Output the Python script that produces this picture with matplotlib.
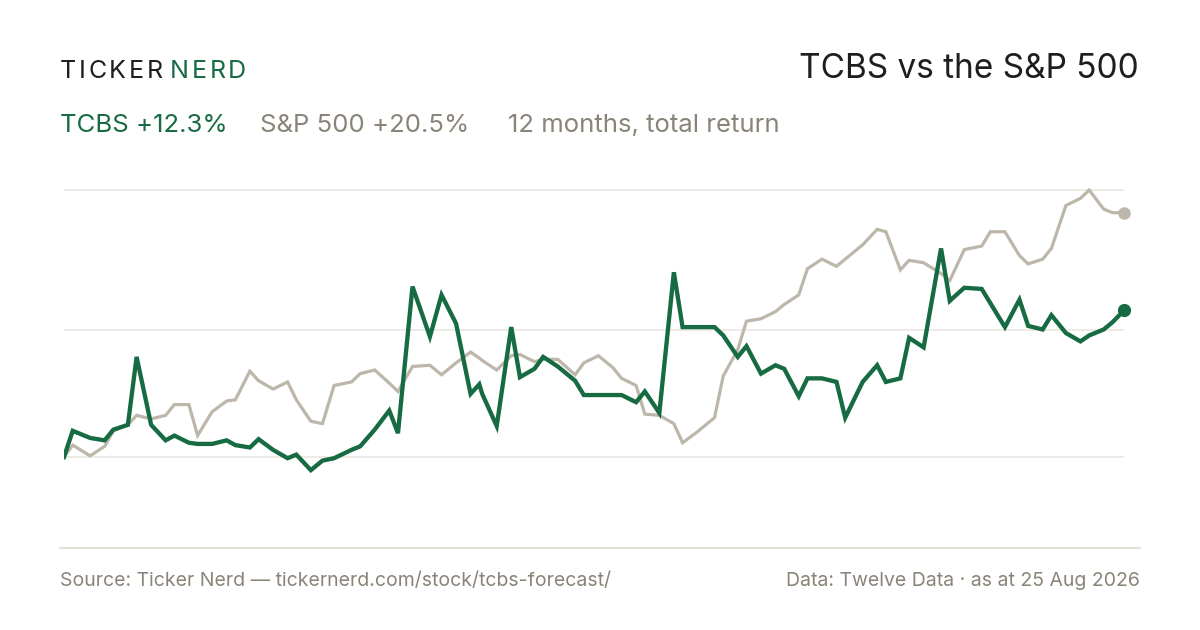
import numpy as np
import matplotlib
matplotlib.use("Agg")
import matplotlib.pyplot as plt
from matplotlib.lines import Line2D

plt.rcParams['font.family'] = ['Inter', 'DejaVu Sans']

# days since 25 Aug 2025, total return in %
days = [0, 3, 9, 14, 17, 22, 25, 30, 35, 38, 43, 46, 51, 56, 59, 64, 67, 72, 77, 80,
        85, 89, 93, 99, 102, 107, 112, 115, 120, 126, 130, 135, 140, 143, 144, 149, 154, 157, 162, 165,
        170, 176, 179, 184, 189, 192, 197, 200, 205, 210, 213, 218, 224, 227, 232, 235, 240, 245, 248, 253,
        256, 261, 266, 269, 275, 280, 283, 288, 291, 296, 302, 305, 310, 316, 319, 324, 329, 332, 337, 340,
        345, 350, 353, 358, 361, 365]

tcbs = [0.0, 2.2, 1.6, 1.4, 2.3, 2.7, 8.4, 2.7, 1.4, 1.8, 1.2, 1.1, 1.1, 1.4, 1.0, 0.8, 1.5, 0.6, -0.1, 0.2,
        -1.1, -0.3, -0.1, 0.6, 0.9, 2.3, 3.9, 2.0, 14.3, 10.1, 13.6, 11.2, 5.3, 6.1, 5.3, 2.6, 10.9, 6.7, 7.4, 8.4,
        7.6, 6.4, 5.2, 5.2, 5.2, 5.2, 4.6, 5.5, 3.7, 15.5, 10.9, 10.9, 10.9, 10.2, 8.4, 9.3, 7.0, 7.7, 7.4, 5.1,
        6.6, 6.6, 6.3, 3.3, 6.3, 7.7, 6.3, 6.6, 10.0, 9.2, 17.5, 13.1, 14.2, 14.1, 12.9, 10.9, 13.2, 11.0, 10.7, 11.9,
        10.4, 9.7, 10.2, 10.7, 11.3, 12.3]

spx = [0.0, 1.0, 0.1, 0.9, 2.2, 2.7, 3.5, 3.2, 3.5, 4.4, 4.4, 1.8, 3.8, 4.7, 4.8, 7.2, 6.4, 5.7, 6.3, 4.8,
       3.0, 2.8, 6.0, 6.3, 7.0, 7.3, 6.2, 5.5, 7.6, 7.7, 6.9, 7.9, 8.8, 8.3, 8.1, 7.3, 8.5, 8.6, 8.0, 8.2,
       8.2, 6.9, 7.9, 8.5, 7.5, 6.6, 6.0, 3.6, 3.5, 2.8, 1.2, 2.1, 3.3, 6.8, 9.0, 11.4, 11.6, 12.2, 12.8, 13.6,
       15.8, 16.6, 16.0, 16.6, 17.8, 19.1, 18.9, 15.7, 16.5, 16.3, 15.4, 14.8, 17.4, 17.7, 18.9, 18.9, 16.9, 16.2, 16.6, 17.5,
       21.1, 21.7, 22.4, 20.8, 20.5, 20.5]

grid_levels = [0.0, 10.65, 22.4]

GREEN = '#176b43'
SAND = '#bdb6aa'
MUTED = '#8a8478'
DARK = '#1e1e1e'

fig = plt.figure(figsize=(12, 6.3), dpi=100)
fig.patch.set_facecolor('white')

W, H = 1200, 630
ax = fig.add_axes([64 / W, (H - 540) / H, 1060 / W, 360 / H])
ax.plot(days, spx, color=SAND, lw=2.3, solid_joinstyle='miter', zorder=2)
ax.plot(days, tcbs, color=GREEN, lw=3.1, solid_joinstyle='miter', zorder=3)
ax.plot(days[-1], spx[-1], 'o', color=SAND, ms=8, clip_on=False, zorder=4)
ax.plot(days[-1], tcbs[-1], 'o', color=GREEN, ms=8.5, clip_on=False, zorder=5)

ax.set_xlim(0, 365)
ax.set_ylim(-6.96, 23.24)
ax.set_yticks(grid_levels)
ax.set_xticks([])
ax.grid(axis='y', color='#ebe8e2', lw=1.2)
ax.tick_params(axis='y', length=0, labelleft=False)
for s in ax.spines.values():
    s.set_visible(False)
ax.set_facecolor('none')

# brand, letter-spaced
renderer = fig.canvas.get_renderer()
x = 60
for word, col in [("TICKER", DARK), ("NERD", GREEN)]:
    for ch in word:
        t = fig.text(x / W, 1 - 72 / H, ch, color=col, fontsize=18, va='center', ha='left')
        w = t.get_window_extent(renderer).width
        x += w + 2.6
    x += 5

fig.text(1139 / W, 1 - 69 / H, "TCBS vs the S&P 500", color=DARK, fontsize=24,
         ha='right', va='center')

fig.text(60 / W, 1 - 126 / H, "TCBS +12.3%", color=GREEN, fontsize=18.5, va='center')
fig.text(260 / W, 1 - 126 / H, "S&P 500 +20.5%", color=MUTED, fontsize=18.5, va='center')
fig.text(508 / W, 1 - 126 / H, "12 months, total return", color=MUTED, fontsize=18.5, va='center')

fig.add_artist(Line2D([60 / W, 1140 / W], [1 - 548 / H, 1 - 548 / H],
                      transform=fig.transFigure, color='#dedad0', lw=1.2))

fig.text(60 / W, 1 - 581 / H, "Source: Ticker Nerd \u2014 tickernerd.com/stock/tcbs-forecast/",
         color=MUTED, fontsize=14, va='center')
fig.text(1140 / W, 1 - 581 / H, "Data: Twelve Data \u00b7 as at 25 Aug 2026",
         color=MUTED, fontsize=14, va='center', ha='right')

fig.savefig('out.png', dpi=100, facecolor='white')
